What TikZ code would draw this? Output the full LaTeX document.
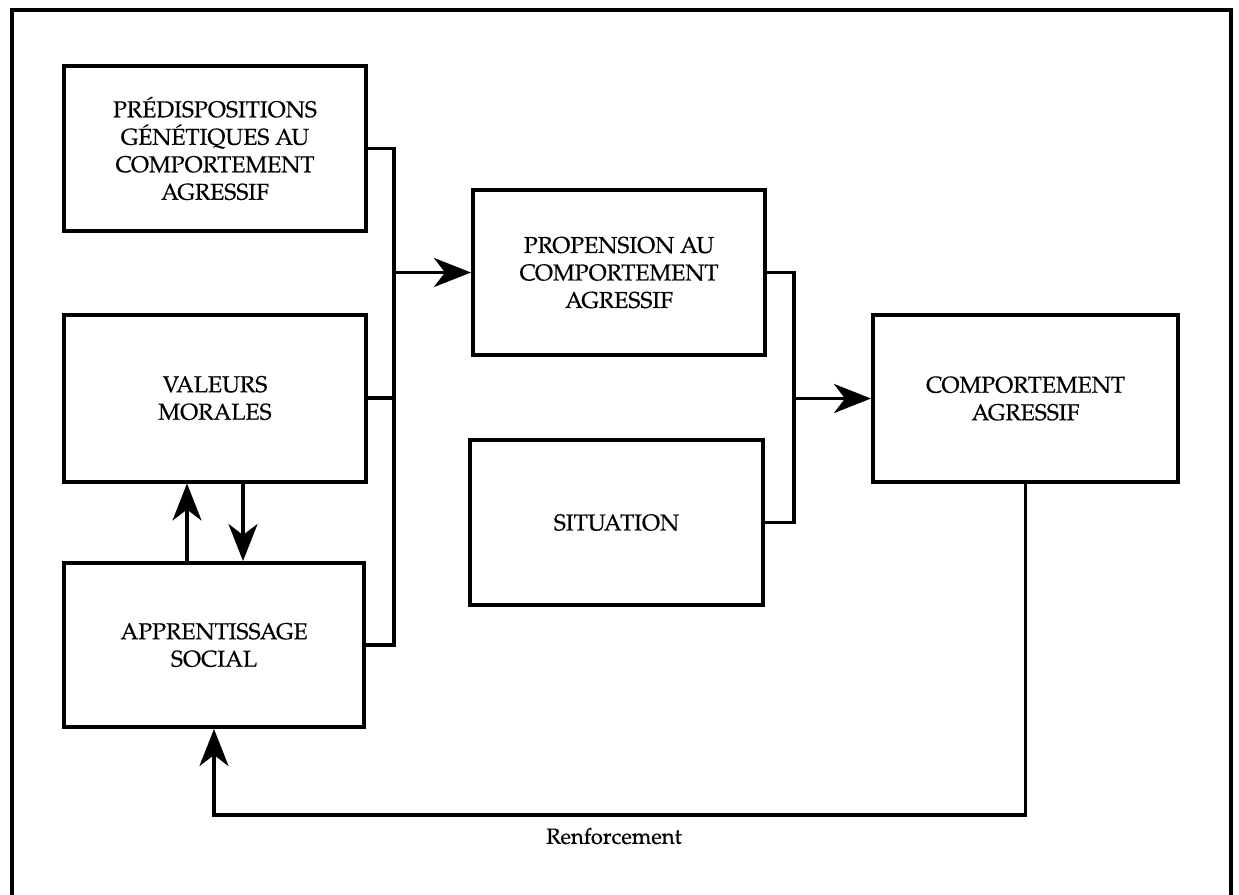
\documentclass[tikz,border=0pt]{standalone}
\usepackage{fontspec}
\setmainfont{TeX Gyre Pagella}
\newfontfamily\labelfont{TeX Gyre Pagella}[FakeBold=0.5]
\usetikzlibrary{arrows.meta}
\begin{document}
\begin{tikzpicture}[x=1pt,y=-1pt,
  box/.style={draw,line width=4pt,align=center,inner sep=0pt,
    font=\labelfont\fontsize{23}{27.5}\selectfont},
  wire/.style={line width=3.5pt,line join=miter},
  arrow/.style={wire,-{Stealth[length=37pt,width=29pt,inset=11pt]}},
  frame/.style={line width=3.2pt}]
\useasboundingbox (0,0) rectangle (1239,894);
% outer frame (open at the bottom)
\draw[frame] (12,910) -- (12,10) -- (1231,10) -- (1231,910);

% boxes
\node[box,minimum width=302pt,minimum height=165pt] (pred) at (215,148.5)
  {PRÉDISPOSITIONS\\GÉNÉTIQUES AU\\COMPORTEMENT\\AGRESSIF};
\node[box,minimum width=302pt,minimum height=167pt] (val) at (215,398)
  {VALEURS\\MORALES};
\node[box,minimum width=300pt,minimum height=164pt] (app) at (214,645)
  {APPRENTISSAGE\\SOCIAL};
\node[box,minimum width=292pt,minimum height=165pt] (prop) at (619,272.5)
  {PROPENSION AU\\COMPORTEMENT\\AGRESSIF};
\node[box,minimum width=293pt,minimum height=165pt] (sit) at (616.5,522.5)
  {SITUATION};
\node[box,minimum width=305pt,minimum height=167pt] (comp) at (1025.5,398.5)
  {COMPORTEMENT\\AGRESSIF};

% left collector
\draw[wire] (pred.east) -- ++(26,0) coordinate (k1) -- (k1 |- app.east) -- (app.east);
\draw[wire] (val.east) -- (k1 |- val.east);
\draw[arrow] (k1 |- prop.west) -- (prop.west);

% right collector
\draw[wire] (prop.east) -- ++(27,0) coordinate (k2) -- (k2 |- sit.east) -- (sit.east);
\draw[arrow] (k2 |- comp.west) -- (comp.west);

% exchange between values and social learning
\draw[arrow] ([xshift=-27pt]app.north) -- ([xshift=-27pt]app.north |- val.south);
\draw[arrow] ([xshift=28pt]val.south) -- ([xshift=28pt]val.south |- app.north);

% reinforcement loop
\draw[arrow] (comp.south) -- ++(0,331) coordinate (fb) -| (app.south);
\node[font=\labelfont\fontsize{22}{26}\selectfont] (ren) at (614,836) {Renforcement};
\end{tikzpicture}
\end{document}
